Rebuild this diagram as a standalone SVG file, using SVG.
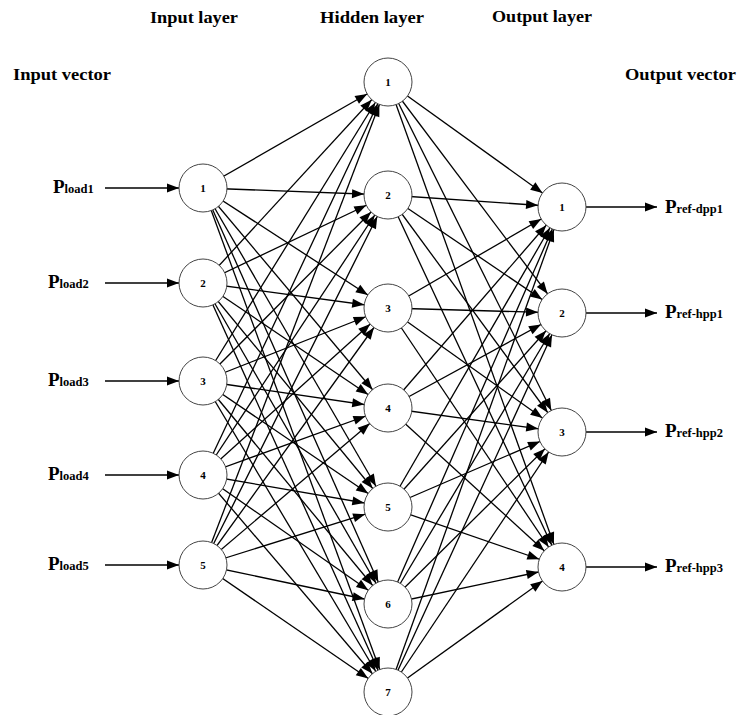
<svg xmlns="http://www.w3.org/2000/svg" width="750" height="715" viewBox="0 0 750 715">
<style>
.c{stroke:#000;stroke-width:1.3;fill:none;marker-end:url(#ah)}
.io{stroke:#000;stroke-width:1.5;fill:none;marker-end:url(#at)}
.n{fill:#fff;stroke:#444;stroke-width:1}
.nl{font-family:"Liberation Serif",serif;font-weight:bold;font-size:11px;text-anchor:middle;fill:#000}
.h{font-family:"Liberation Serif",serif;font-weight:bold;font-size:17px;fill:#000}
.p{font-family:"Liberation Serif",serif;font-weight:bold;font-size:19px;fill:#000}
.s{font-size:12.5px}
</style>
<defs>
<marker id="ah" markerUnits="userSpaceOnUse" viewBox="-40 -6 40 12" refX="0" refY="0" markerWidth="40" markerHeight="12" orient="auto" overflow="visible">
<path d="M-24,0 L-36,-4.5 L-36,4.5 z" fill="#000"/>
</marker>
<marker id="at" markerUnits="userSpaceOnUse" viewBox="-14 -6 14 12" refX="0" refY="0" markerWidth="14" markerHeight="12" orient="auto" overflow="visible">
<path d="M0,0 L-12,-4.5 L-12,4.5 z" fill="#000"/>
</marker>
</defs>
<rect width="750" height="715" fill="#fff"/>
<g id="headers">
<text class="h" x="150" y="23" textLength="88" lengthAdjust="spacingAndGlyphs">Input layer</text>
<text class="h" x="320" y="23" textLength="104" lengthAdjust="spacingAndGlyphs">Hidden layer</text>
<text class="h" x="492" y="22" textLength="100" lengthAdjust="spacingAndGlyphs">Output layer</text>
<text class="h" x="13" y="80" textLength="98" lengthAdjust="spacingAndGlyphs">Input vector</text>
<text class="h" x="625" y="80" textLength="111" lengthAdjust="spacingAndGlyphs">Output vector</text>
</g>
<g id="connectors">
<line class="io" x1="105" y1="188" x2="179" y2="188"/>
<line class="io" x1="105" y1="283" x2="179" y2="283"/>
<line class="io" x1="105" y1="381" x2="179" y2="381"/>
<line class="io" x1="105" y1="475" x2="179" y2="475"/>
<line class="io" x1="105" y1="565" x2="179" y2="565"/>
<line class="io" x1="586" y1="207" x2="657" y2="207"/>
<line class="io" x1="586" y1="313" x2="657" y2="313"/>
<line class="io" x1="586" y1="432" x2="657" y2="432"/>
<line class="io" x1="586" y1="567" x2="657" y2="567"/>
<line class="c" x1="203" y1="188" x2="388" y2="82"/>
<line class="c" x1="203" y1="188" x2="388" y2="195"/>
<line class="c" x1="203" y1="188" x2="388" y2="308"/>
<line class="c" x1="203" y1="188" x2="388" y2="408"/>
<line class="c" x1="203" y1="188" x2="388" y2="507"/>
<line class="c" x1="203" y1="188" x2="388" y2="604"/>
<line class="c" x1="203" y1="188" x2="388" y2="692"/>
<line class="c" x1="203" y1="283" x2="388" y2="82"/>
<line class="c" x1="203" y1="283" x2="388" y2="195"/>
<line class="c" x1="203" y1="283" x2="388" y2="308"/>
<line class="c" x1="203" y1="283" x2="388" y2="408"/>
<line class="c" x1="203" y1="283" x2="388" y2="507"/>
<line class="c" x1="203" y1="283" x2="388" y2="604"/>
<line class="c" x1="203" y1="283" x2="388" y2="692"/>
<line class="c" x1="203" y1="381" x2="388" y2="82"/>
<line class="c" x1="203" y1="381" x2="388" y2="195"/>
<line class="c" x1="203" y1="381" x2="388" y2="308"/>
<line class="c" x1="203" y1="381" x2="388" y2="408"/>
<line class="c" x1="203" y1="381" x2="388" y2="507"/>
<line class="c" x1="203" y1="381" x2="388" y2="604"/>
<line class="c" x1="203" y1="381" x2="388" y2="692"/>
<line class="c" x1="203" y1="475" x2="388" y2="82"/>
<line class="c" x1="203" y1="475" x2="388" y2="195"/>
<line class="c" x1="203" y1="475" x2="388" y2="308"/>
<line class="c" x1="203" y1="475" x2="388" y2="408"/>
<line class="c" x1="203" y1="475" x2="388" y2="507"/>
<line class="c" x1="203" y1="475" x2="388" y2="604"/>
<line class="c" x1="203" y1="475" x2="388" y2="692"/>
<line class="c" x1="203" y1="565" x2="388" y2="82"/>
<line class="c" x1="203" y1="565" x2="388" y2="195"/>
<line class="c" x1="203" y1="565" x2="388" y2="308"/>
<line class="c" x1="203" y1="565" x2="388" y2="408"/>
<line class="c" x1="203" y1="565" x2="388" y2="507"/>
<line class="c" x1="203" y1="565" x2="388" y2="604"/>
<line class="c" x1="203" y1="565" x2="388" y2="692"/>
<line class="c" x1="388" y1="82" x2="562" y2="207"/>
<line class="c" x1="388" y1="82" x2="562" y2="313"/>
<line class="c" x1="388" y1="82" x2="562" y2="432"/>
<line class="c" x1="388" y1="82" x2="562" y2="567"/>
<line class="c" x1="388" y1="195" x2="562" y2="207"/>
<line class="c" x1="388" y1="195" x2="562" y2="313"/>
<line class="c" x1="388" y1="195" x2="562" y2="432"/>
<line class="c" x1="388" y1="195" x2="562" y2="567"/>
<line class="c" x1="388" y1="308" x2="562" y2="207"/>
<line class="c" x1="388" y1="308" x2="562" y2="313"/>
<line class="c" x1="388" y1="308" x2="562" y2="432"/>
<line class="c" x1="388" y1="308" x2="562" y2="567"/>
<line class="c" x1="388" y1="408" x2="562" y2="207"/>
<line class="c" x1="388" y1="408" x2="562" y2="313"/>
<line class="c" x1="388" y1="408" x2="562" y2="432"/>
<line class="c" x1="388" y1="408" x2="562" y2="567"/>
<line class="c" x1="388" y1="507" x2="562" y2="207"/>
<line class="c" x1="388" y1="507" x2="562" y2="313"/>
<line class="c" x1="388" y1="507" x2="562" y2="432"/>
<line class="c" x1="388" y1="507" x2="562" y2="567"/>
<line class="c" x1="388" y1="604" x2="562" y2="207"/>
<line class="c" x1="388" y1="604" x2="562" y2="313"/>
<line class="c" x1="388" y1="604" x2="562" y2="432"/>
<line class="c" x1="388" y1="604" x2="562" y2="567"/>
<line class="c" x1="388" y1="692" x2="562" y2="207"/>
<line class="c" x1="388" y1="692" x2="562" y2="313"/>
<line class="c" x1="388" y1="692" x2="562" y2="432"/>
<line class="c" x1="388" y1="692" x2="562" y2="567"/>
</g>
<g id="input-labels">
<text class="p" x="53" y="193">P<tspan class="s">load1</tspan></text>
<text class="p" x="48" y="288">P<tspan class="s">load2</tspan></text>
<text class="p" x="48" y="386">P<tspan class="s">load3</tspan></text>
<text class="p" x="48" y="480">P<tspan class="s">load4</tspan></text>
<text class="p" x="48" y="570">P<tspan class="s">load5</tspan></text>
</g>
<g id="output-labels">
<text class="p" x="665" y="213">P<tspan class="s">ref-dpp1</tspan></text>
<text class="p" x="665" y="318">P<tspan class="s">ref-hpp1</tspan></text>
<text class="p" x="665" y="437">P<tspan class="s">ref-hpp2</tspan></text>
<text class="p" x="665" y="572">P<tspan class="s">ref-hpp3</tspan></text>
</g>
<g id="in1"><circle class="n" cx="203" cy="188" r="24"/><text class="nl" x="203" y="192">1</text></g>
<g id="in2"><circle class="n" cx="203" cy="283" r="24"/><text class="nl" x="203" y="287">2</text></g>
<g id="in3"><circle class="n" cx="203" cy="381" r="24"/><text class="nl" x="203" y="385">3</text></g>
<g id="in4"><circle class="n" cx="203" cy="475" r="24"/><text class="nl" x="203" y="479">4</text></g>
<g id="in5"><circle class="n" cx="203" cy="565" r="24"/><text class="nl" x="203" y="569">5</text></g>
<g id="hid1"><circle class="n" cx="388" cy="82" r="24"/><text class="nl" x="388" y="86">1</text></g>
<g id="hid2"><circle class="n" cx="388" cy="195" r="24"/><text class="nl" x="388" y="199">2</text></g>
<g id="hid3"><circle class="n" cx="388" cy="308" r="24"/><text class="nl" x="388" y="312">3</text></g>
<g id="hid4"><circle class="n" cx="388" cy="408" r="24"/><text class="nl" x="388" y="412">4</text></g>
<g id="hid5"><circle class="n" cx="388" cy="507" r="24"/><text class="nl" x="388" y="511">5</text></g>
<g id="hid6"><circle class="n" cx="388" cy="604" r="24"/><text class="nl" x="388" y="608">6</text></g>
<g id="hid7"><circle class="n" cx="388" cy="692" r="24"/><text class="nl" x="388" y="696">7</text></g>
<g id="out1"><circle class="n" cx="562" cy="207" r="24"/><text class="nl" x="562" y="211">1</text></g>
<g id="out2"><circle class="n" cx="562" cy="313" r="24"/><text class="nl" x="562" y="317">2</text></g>
<g id="out3"><circle class="n" cx="562" cy="432" r="24"/><text class="nl" x="562" y="436">3</text></g>
<g id="out4"><circle class="n" cx="562" cy="567" r="24"/><text class="nl" x="562" y="571">4</text></g>
</svg>
